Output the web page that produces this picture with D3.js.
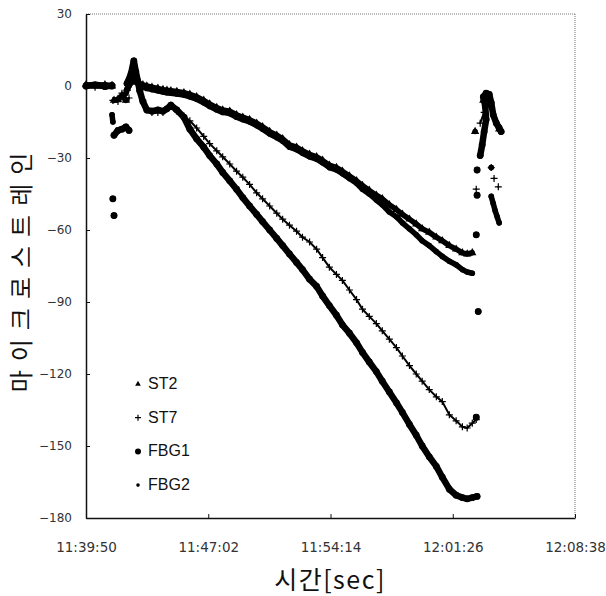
<!DOCTYPE html>
<html>
<head>
<meta charset="utf-8">
<script src="https://cdn.jsdelivr.net/npm/d3@7"></script>
<style>
  body { margin: 0; background: #fff; }
</style>
</head>
<body>
<div id="chart"></div>
<script>
// axis ticks
const yTicks = [30, 0, -30, -60, -90, -120, -150, -180];
const xTicks = ["11:39:50", "11:47:02", "11:54:14", "12:01:26", "12:08:38"];

// shared sample times for the long descending part
const mainTimes = ["11:43:00","11:43:11","11:43:25","11:43:43","11:44:04","11:44:22","11:44:36","11:44:50","11:45:11","11:45:36",
  "11:45:57","11:46:21","11:46:46","11:47:07","11:47:32","11:47:53","11:48:18","11:48:42","11:49:04","11:49:28",
  "11:49:53","11:50:14","11:50:39","11:51:04","11:51:25","11:51:49","11:52:14","11:52:35","11:53:00","11:53:25",
  "11:53:46","11:54:10","11:54:35","11:54:56","11:55:21","11:55:46","11:56:07","11:56:31","11:56:56","11:57:17",
  "11:57:42","11:58:07","11:58:28","11:58:53","11:59:17","11:59:38","12:00:03","12:00:28","12:00:49","12:01:14",
  "12:01:38","12:02:00","12:02:17","12:02:35"];

const st2Main = [1, 0.5, 0, -0.5, -1, -1.5, -1.8, -2, -2.3, -2.8,
  -3.5, -4.5, -6, -7.5, -9, -10, -10.5, -12, -13, -14,
  -15.5, -17, -19, -20.5, -22, -24.5, -25.5, -27, -28.5, -29.5,
  -31, -33, -34, -35.5, -37.5, -39.5, -41.5, -43.5, -45.5, -47,
  -49.5, -51.5, -53.5, -55.5, -57.5, -59.5, -61, -63, -64.5, -66.5,
  -68, -69.5, -70, -69.5];
const st7Main = [-2, -6, -9.5, -11, -11, -11, -9.5, -8, -10.5, -12.5,
  -14.5, -17.5, -21, -24, -27, -29.5, -32.5, -35.5, -38, -41,
  -44.5, -47, -50, -53, -55.5, -58, -60.5, -63, -65, -68,
  -71.5, -75.5, -78.5, -81, -85, -89, -93, -96, -99, -102,
  -105.5, -109, -112.5, -116.5, -120, -123, -126.5, -129.5, -131.5, -137,
  -139.5, -142, -142.5, -140.5];
const fbg1Main = [-2, -6.5, -10, -10.5, -10, -10.5, -9.5, -8, -10, -13,
  -18, -22, -25.5, -29, -32.5, -36, -39.5, -43, -46.5, -50,
  -53.5, -56.5, -60, -63.5, -66.5, -70, -73.5, -76.5, -80.5, -83.5,
  -87.5, -91.5, -95.5, -99.5, -103, -107, -111, -115, -119, -123,
  -127.5, -132, -136, -141, -145.5, -150, -154.5, -158.5, -163, -168,
  -170.5, -171.5, -172, -171.5];
const fbg2Main = [0, -0.5, -1, -1.5, -2, -2.5, -2.8, -3, -3.3, -3.8,
  -4.5, -5.5, -7, -8.5, -10, -11, -11.5, -13, -14, -15,
  -16.5, -18, -20, -21.5, -23, -25.5, -26.5, -28, -29.5, -30.5,
  -32, -34, -35, -36.5, -38.5, -40.5, -43, -45, -47.5, -49.5,
  -52.5, -54.5, -57, -59.5, -62, -64.5, -66.5, -69, -71, -73,
  -74.5, -76.5, -77.5, -78];

// start and end pieces ([time, value]; null = gap in the record)
const st2Start = [["11:39:50",0.5],["11:40:22",0],["11:40:57",0.5],["11:41:22",0], null,
  ["11:41:29",-6],["11:41:43",-5.5],["11:41:57",-4],["11:42:11",-6], null,
  ["11:42:15",-1],["11:42:29",1.5],["11:42:39",3],["11:42:50",2]];
const st2End = [null, ["12:02:45",-19], null, ["12:03:14",-6], null, ["12:04:10",-18]];

const st7Start = [["11:39:50",0],["11:40:22",-0.5],["11:40:57",0],["11:41:22",0.5], null,
  ["11:41:25",-6],["11:41:43",-6.5],["11:41:57",-3],["11:42:11",-5.5],["11:42:22",-5], null,
  ["11:42:39",7],["11:42:46",4],["11:42:53",1]];
const st7End = [["12:02:49",-139], null, ["12:03:03",-15.5],["12:03:17",-11], null, ["12:02:49",-43], null,
  ["12:03:42",-34], null, ["12:03:52",-38.5], null, ["12:04:07",-42]];

const fbg1Start = [["11:39:50",0],["11:40:22",0.5],["11:40:57",0],["11:41:22",0], null,
  ["11:41:29",-20.5],["11:41:43",-18.5],["11:41:57",-18],["11:42:11",-17],["11:42:22",-18.5], null,
  ["11:41:25",-47], null, ["11:41:29",-54], null,
  ["11:42:15",1],["11:42:29",5],["11:42:39",10.5],["11:42:46",6],["11:42:53",2]];
const fbg1End = [["12:02:52",-171], null, ["12:02:49",-138], null, ["12:02:56",-94], null,
  ["12:02:49",-62], null, ["12:02:52",-45.5], null, ["12:02:52",-35], null,
  ["12:03:03",-29],["12:03:10",-24.5],["12:03:17",-19],["12:03:24",-14],["12:03:21",-8.5],["12:03:14",-4.5],
  ["12:03:24",-3],["12:03:35",-3.5],["12:03:42",-7],["12:03:49",-12],["12:04:00",-15.5],["12:04:10",-17.5],["12:04:17",-19]];

const fbg2Start = [["11:39:50",0],["11:40:22",0.5],["11:40:57",-0.5],["11:41:22",0.5], null,
  ["11:41:22",-12],["11:41:25",-15], null,
  ["11:42:11",-3],["11:42:22",0],["11:42:39",3],["11:42:50",1.5]];
const fbg2End = [null, ["12:03:42",-34], null,
  ["12:03:42",-46],["12:03:49",-49],["12:03:56",-52],["12:04:03",-54.5],["12:04:10",-57]];

const parseTime = d3.timeParse("%H:%M:%S");
const build = (start, main, end) =>
  start.concat(mainTimes.map((t, i) => [t, main[i]]), end)
    .map((d) => (d ? { t: parseTime(d[0]), v: d[1] } : null));

const series = [
  { name: "ST2", data: build(st2Start, st2Main, st2End), width: 5.5, marker: "tri" },
  { name: "ST7", data: build(st7Start, st7Main, st7End), width: 2, marker: "plus" },
  { name: "FBG1", data: build(fbg1Start, fbg1Main, fbg1End), width: 6.5, marker: "big" },
  { name: "FBG2", data: build(fbg2Start, fbg2Main, fbg2End), width: 5.5, marker: "dot" },
];

const W = 606, H = 596;
const plot = { l: 86, r: 575, t: 14, b: 518 };

const svg = d3.select("#chart").append("svg").attr("width", W).attr("height", H);

const x = d3.scaleTime()
  .domain([parseTime(xTicks[0]), parseTime(xTicks[xTicks.length - 1])])
  .range([plot.l, plot.r]);
const y = d3.scaleLinear().domain([-180, 30]).range([plot.b, plot.t]);

// frame: dotted top/right
svg.append("line").attr("x1", plot.l).attr("x2", plot.r).attr("y1", plot.t).attr("y2", plot.t)
  .attr("stroke", "#777").attr("stroke-dasharray", "1,1");
svg.append("line").attr("x1", plot.r).attr("x2", plot.r).attr("y1", plot.t).attr("y2", plot.b)
  .attr("stroke", "#777").attr("stroke-dasharray", "1,1");

const yAxis = svg.append("g").attr("transform", `translate(${plot.l},0)`)
  .call(d3.axisLeft(y).tickValues(yTicks).tickSizeInner(-4).tickSizeOuter(0).tickPadding(14).tickFormat(d3.format("d")));
const xAxis = svg.append("g").attr("transform", `translate(0,${plot.b})`)
  .call(d3.axisBottom(x).tickValues(xTicks.map(parseTime)).tickSizeInner(-4).tickSizeOuter(0).tickPadding(24)
    .tickFormat(d3.timeFormat("%H:%M:%S")));
[yAxis, xAxis].forEach((g) => {
  g.select(".domain").attr("stroke", "#111").attr("stroke-width", 1.5);
  g.selectAll(".tick line").attr("stroke", "#111");
  g.selectAll(".tick text").attr("fill", "#333").attr("font-family", "DejaVu Sans, sans-serif");
});
yAxis.selectAll(".tick text").attr("font-size", 12);
xAxis.selectAll(".tick text").attr("font-size", 13.5);

// series
const line = d3.line().defined((d) => d).x((d) => x(d.t)).y((d) => y(d.v));
const marks = {
  tri: (g, s) => g.append("path").attr("d", d3.symbol(d3.symbolTriangle, s)).attr("fill", "#000"),
  plus: (g, s) => g.append("path").attr("d", `M${-s},0H${s}M0,${-s}V${s}`).attr("stroke", "#000").attr("stroke-width", 1.2),
  big: (g, s) => g.append("circle").attr("r", s).attr("fill", "#000"),
  dot: (g, s) => g.append("circle").attr("r", s).attr("fill", "#000"),
};
const markSize = { tri: 30, plus: 3.5, big: 3.4, dot: 2.8 };
const legendSize = { tri: 14, plus: 3, big: 3, dot: 1.8 };

const plotG = svg.append("g");
series.forEach((s) => {
  plotG.append("path").datum(s.data).attr("d", line)
    .attr("fill", "none").attr("stroke", "#000").attr("stroke-width", s.width)
    .attr("stroke-linecap", "round").attr("stroke-linejoin", "round");
  plotG.append("g").selectAll("g").data(s.data.filter((d) => d)).enter().append("g")
    .attr("transform", (d) => `translate(${x(d.t)},${y(d.v)})`)
    .each(function () { marks[s.marker](d3.select(this), markSize[s.marker]); });
});

// legend
const legend = svg.append("g").attr("transform", "translate(138,389)");
series.forEach((s, i) => {
  const row = legend.append("g").attr("transform", `translate(0,${i * 33.7})`);
  marks[s.marker](row.append("g").attr("transform", "translate(0,-5)"), legendSize[s.marker]);
  row.append("text").attr("x", 10).attr("y", 0).text(s.name)
    .attr("font-family", "Liberation Sans, Arial, sans-serif").attr("font-size", 16).attr("fill", "#111");
});

// axis titles
svg.append("text").attr("transform", "translate(30,268) rotate(-90)")
  .attr("text-anchor", "middle").attr("font-family", "Noto Sans CJK KR").attr("font-size", 24)
  .attr("letter-spacing", 9).attr("fill", "#111").text("마이크로스트레인");
svg.append("text").attr("x", 330).attr("y", 589).attr("text-anchor", "middle")
  .attr("font-family", "Noto Sans CJK KR").attr("font-size", 25).attr("letter-spacing", 1.5)
  .attr("fill", "#111").text("시간[sec]");
</script>
</body>
</html>
